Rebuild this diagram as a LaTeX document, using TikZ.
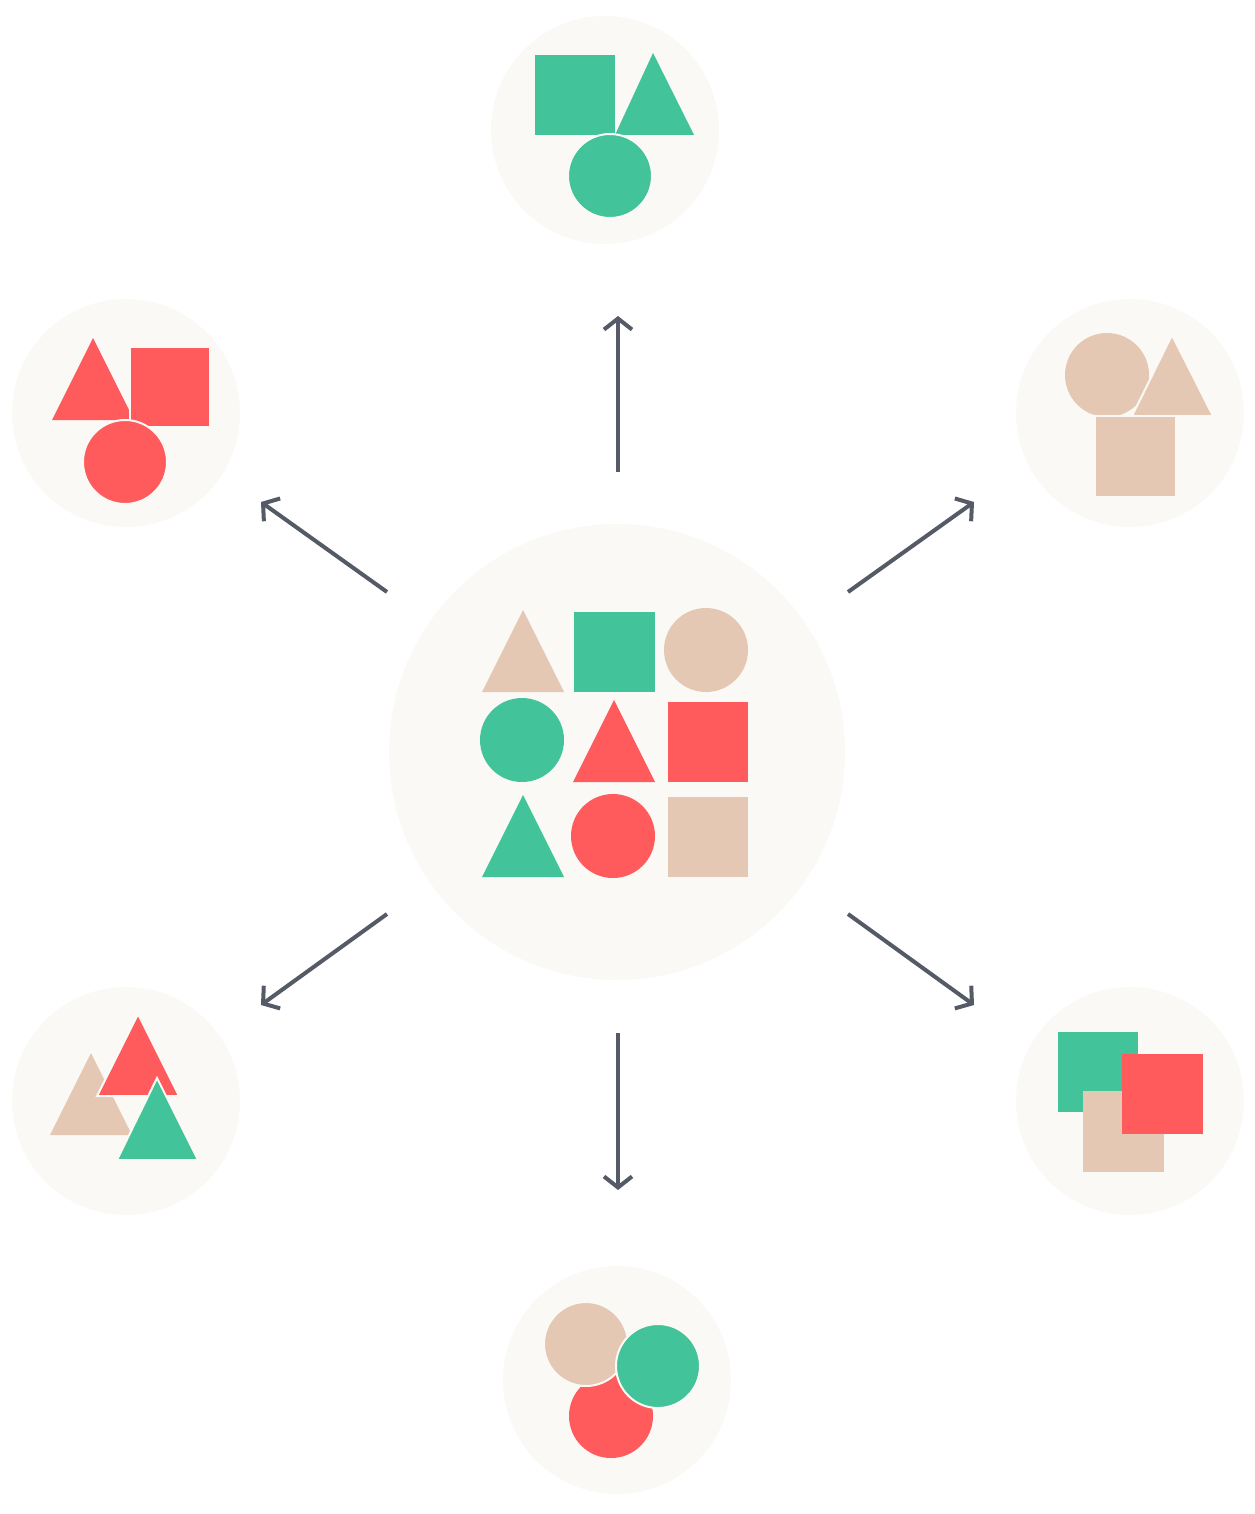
\documentclass[tikz,border=0pt]{standalone}
\usetikzlibrary{arrows.meta}
\definecolor{gr}{HTML}{42C39A}
\definecolor{rd}{HTML}{FF5A5C}
\definecolor{bg}{HTML}{E4C8B3}
\definecolor{pale}{HTML}{FBF9F5}
\definecolor{ar}{HTML}{545A66}
\begin{document}
\begin{tikzpicture}[x=1pt,y=-1pt,
  disc/.style={circle,fill=pale,inner sep=0pt,minimum size=#1},
  conn/.style={draw=ar,line width=4pt,-{Straight Barb[length=11pt,width=28pt,line width=4pt]}},
  ol/.style={draw=pale,line width=2pt}]
\useasboundingbox (0,0) rectangle (1254,1514);
\fill[white] (0,0) rectangle (1254,1514);
\node[disc=228pt] (t) at (605,130) {};
\node[disc=228pt] (tl) at (126,413) {};
\node[disc=228pt] (tr) at (1130,413) {};
\node[disc=228pt] (bl) at (126,1101) {};
\node[disc=228pt] (br) at (1130,1101) {};
\node[disc=228pt] (b) at (617,1380) {};
\node[disc=456pt] (c) at (617,752) {};
% top
\fill[gr] (535,55) rectangle (615,135);
\fill[gr] (653,53) -- (694,135) -- (615,135) -- cycle;
\fill[gr,ol] (610,176) circle (42);
% top-left
\fill[rd] (93,338) -- (134,420) -- (52,420) -- cycle;
\fill[rd,ol] (130,347) rectangle (210,427);
\fill[rd,ol] (125,462) circle (42);
% top-right
\fill[bg] (1107,375) circle (42);
\fill[bg,ol] (1172,335) -- (1213,416) -- (1132,416) -- cycle;
\fill[bg,ol] (1095,416) rectangle (1176,497);
% center
\fill[bg] (523,610) -- (564,692) -- (482,692) -- cycle;
\fill[gr] (574,612) rectangle (655,692);
\fill[bg] (706,650) circle (42);
\fill[gr] (522,740) circle (42);
\fill[rd] (614,700) -- (655,782) -- (573,782) -- cycle;
\fill[rd] (668,702) rectangle (748,782);
\fill[gr] (523,795) -- (564,877) -- (482,877) -- cycle;
\fill[rd] (613,836) circle (42);
\fill[bg] (668,797) rectangle (748,877);
% bottom-left
\fill[bg] (91,1053) -- (132,1135) -- (50,1135) -- cycle;
\fill[rd,ol] (138,1014) -- (179,1096) -- (97,1096) -- cycle;
\fill[gr,ol] (157,1078) -- (198,1160) -- (117,1160) -- cycle;
% bottom-right
\fill[gr] (1058,1032) rectangle (1138,1112);
\fill[bg] (1083,1091) rectangle (1164,1172);
\fill[rd] (1122,1054) rectangle (1203,1134);
% bottom
\fill[rd] (611,1416) circle (42);
\fill[bg,ol] (586,1344) circle (42);
\fill[gr,ol] (658,1366) circle (42);
% arrows
\coordinate (a1) at (618,472); \coordinate (e1) at (618,316);
\coordinate (a2) at (618,1033); \coordinate (e2) at (618,1190);
\coordinate (a3) at (387,592); \coordinate (e3) at (261,502);
\coordinate (a4) at (848,592); \coordinate (e4) at (974,502);
\coordinate (a5) at (387,914); \coordinate (e5) at (261,1005);
\coordinate (a6) at (848,914); \coordinate (e6) at (974,1005);
\foreach \i in {1,...,6} \draw[conn] (a\i) -- (e\i);
\end{tikzpicture}
\end{document}
